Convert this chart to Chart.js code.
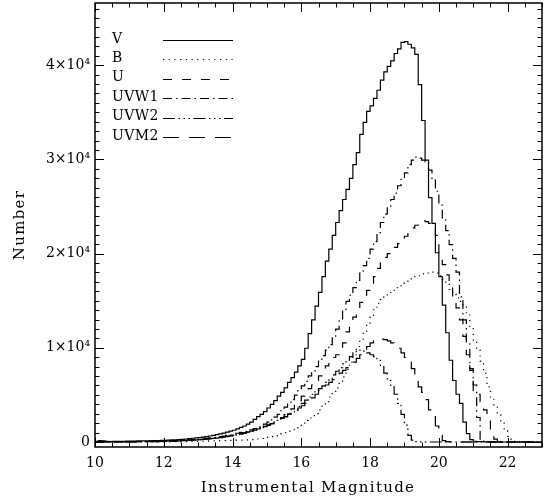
<!DOCTYPE html>
<html>
<head>
<meta charset="utf-8">
<script src="https://cdn.jsdelivr.net/npm/chart.js@4.4.1/dist/chart.umd.min.js"></script>
<style>
    html, body { margin: 0; padding: 0; background: #fff; }
    #histChart { display: block; }
</style>
</head>
<body>
<canvas id="histChart" width="544" height="501"></canvas>
<script>
// Histogramas de magnitude instrumental, bins de 0.1 mag a partir de 10.0
const binStart = 10.0;
const binWidth = 0.1;
const nBins = 130;
const magBins = Array.from({ length: nBins }, (_, i) => +(binStart + i * binWidth).toFixed(1));

const countsV = [
    80, 150, 120, 60, 50, 60, 70, 60, 80, 90,
    90, 100, 110, 120, 110, 130, 140, 150, 160, 170,
    180, 200, 220, 240, 260, 290, 320, 360, 400, 430,
    470, 520, 580, 640, 700, 780, 860, 950, 1050, 1150,
    1250, 1400, 1550, 1700, 1900, 2100, 2400, 2700, 2930, 3220,
    3610, 4000, 4390, 4880, 5270, 5750, 6340, 6830, 7410, 8090,
    8780, 9950, 11500, 12970, 14430, 15890, 17550, 19210, 20480, 21940,
    23300, 24570, 25740, 26810, 27980, 29450, 30710, 32660, 33930, 35100,
    35690, 36470, 37340, 38420, 39290, 39880, 40460, 41240, 41730, 42410,
    42510, 42220, 41830, 41150, 37930, 34130, 29930, 25940, 23210, 20090,
    17550, 14530, 11600, 8680, 6530, 5070, 4100, 2100, 900, 250,
    80, 40, 30, 20, 10, 10, 0, 0, 0, 0,
    0, 0, 0, 0, 0, 0, 0, 0, 0, 0
];

const countsB = [
    0, 0, 0, 0, 0, 0, 0, 0, 0, 0,
    0, 0, 0, 0, 0, 0, 10, 10, 10, 20,
    20, 20, 30, 30, 40, 40, 50, 50, 60, 70,
    80, 90, 100, 110, 120, 130, 140, 150, 160, 170,
    180, 190, 200, 210, 220, 250, 280, 320, 370, 430,
    500, 580, 660, 760, 870, 1000, 1150, 1300, 1500, 1750,
    2000, 2300, 2550, 2800, 3020, 3410, 3800, 4290, 4780, 5270,
    5750, 6340, 6920, 7700, 8480, 9260, 10140, 10920, 11700, 12480,
    13260, 14040, 14720, 15110, 15410, 15700, 16090, 16380, 16580, 16870,
    17060, 17160, 17360, 17550, 17650, 17840, 17940, 18040, 18040, 17940,
    17650, 17260, 16770, 16190, 15700, 15310, 14920, 14430, 13650, 12190,
    10730, 9750, 8580, 7310, 5850, 4780, 3710, 2900, 2000, 1200,
    600, 250, 60, 20, 0, 0, 0, 0, 0, 0
];

const countsU = [
    0, 20, 20, 10, 10, 10, 20, 20, 20, 30,
    30, 30, 40, 40, 50, 50, 60, 60, 70, 80,
    90, 100, 110, 120, 130, 150, 170, 190, 210, 230,
    260, 290, 320, 350, 390, 430, 480, 530, 590, 650,
    720, 790, 870, 960, 1050, 1150, 1260, 1380, 1500, 1650,
    1800, 1950, 2150, 2350, 2600, 2900, 3200, 3510, 3900, 4390,
    4880, 5270, 5660, 6050, 6530, 7020, 7510, 8090, 8580, 8970,
    9260, 9850, 10530, 11700, 12480, 13260, 14040, 14820, 15600, 16090,
    16770, 17550, 18430, 19010, 19600, 19990, 20380, 20670, 21060, 21450,
    21840, 22230, 22720, 23010, 23300, 23500, 23400, 23210, 23010, 21940,
    19990, 18820, 17750, 16580, 15410, 14240, 12970, 11210, 9260, 7610,
    6050, 5070, 4290, 3410, 2900, 1000, 300, 50, 0, 0,
    0, 0, 0, 0, 0, 0, 0, 0, 0, 0
];

const countsUVW1 = [
    0, 10, 10, 10, 10, 20, 20, 20, 20, 30,
    30, 40, 40, 50, 50, 60, 60, 70, 80, 90,
    100, 110, 120, 140, 160, 180, 200, 230, 260, 290,
    320, 350, 390, 430, 480, 530, 580, 640, 700, 770,
    850, 930, 1020, 1110, 1200, 1300, 1420, 1550, 1700, 1900,
    2100, 2350, 2650, 2930, 3320, 3710, 4100, 4490, 4970, 5460,
    5950, 6440, 7020, 7510, 8000, 8580, 9170, 9750, 10340, 11120,
    11990, 12970, 14040, 14920, 15600, 16380, 17160, 17940, 18720, 19500,
    20480, 21260, 22230, 23300, 24180, 24960, 25740, 26420, 27200, 27890,
    28570, 29450, 29930, 30230, 30130, 29930, 29740, 28860, 27790, 26620,
    25160, 23790, 22430, 20960, 19500, 18040, 15410, 12970, 10530, 7800,
    5360, 2600, 300, 80, 30, 0, 0, 0, 0, 0,
    0, 0, 0, 0, 0, 0, 0, 0, 0, 0
];

const countsUVW2 = [
    0, 0, 0, 10, 10, 10, 10, 10, 20, 20,
    20, 20, 30, 30, 30, 40, 40, 50, 50, 60,
    70, 80, 90, 100, 110, 130, 150, 170, 190, 210,
    240, 270, 300, 340, 380, 420, 470, 520, 580, 640,
    710, 780, 860, 950, 1040, 1140, 1250, 1370, 1500, 1640,
    1790, 1950, 2120, 2300, 2500, 2700, 2950, 3200, 3410, 3750,
    4100, 4440, 4780, 5070, 5360, 5660, 5950, 6340, 6730, 7120,
    7510, 7900, 8290, 8680, 9070, 9460, 9650, 9750, 9650, 9460,
    9260, 9070, 8680, 8000, 7310, 6530, 5850, 5070, 4100, 2930,
    1800, 700, 200, 50, 20, 10, 0, 0, 0, 0,
    0, 0, 0, 0, 0, 0, 0, 0, 0, 0,
    0, 0, 0, 0, 0, 0, 0, 0, 0, 0,
    0, 0, 0, 0, 0, 0, 0, 0, 0, 0
];

const countsUVM2 = [
    0, 0, 10, 10, 10, 10, 10, 20, 20, 20,
    20, 30, 30, 30, 40, 40, 50, 50, 60, 70,
    80, 90, 100, 110, 120, 140, 160, 180, 200, 220,
    250, 280, 310, 350, 390, 430, 480, 530, 590, 650,
    720, 800, 880, 970, 1060, 1160, 1270, 1390, 1520, 1660,
    1800, 1950, 2100, 2300, 2500, 2700, 2950, 3200, 3360, 3610,
    3850, 4100, 4390, 4680, 5070, 5460, 5750, 6050, 6340, 6630,
    6920, 7310, 7610, 7900, 8190, 8480, 8870, 9260, 9750, 10140,
    10530, 10730, 10820, 10920, 10870, 10730, 10530, 10240, 9950, 9460,
    8970, 8480, 7800, 6830, 5850, 5270, 4490, 3410, 2700, 1700,
    700, 150, 50, 20, 0, 0, 0, 0, 0, 0,
    0, 0, 0, 0, 0, 0, 0, 0, 0, 0,
    0, 0, 0, 0, 0, 0, 0, 0, 0, 0
];

const seriesNames = ['V', 'B', 'U', 'UVW1', 'UVW2', 'UVM2'];
const seriesCounts = [countsV, countsB, countsU, countsUVW1, countsUVW2, countsUVM2];

const xTickValues = [10, 12, 14, 16, 18, 20, 22];
const xTickLabels = ['10', '12', '14', '16', '18', '20', '22'];
const yTickValues = [0, 10000, 20000, 30000, 40000];
const yTickLabels = ['0', '1×10⁴', '2×10⁴', '3×10⁴', '4×10⁴'];

// Estilos de linha (estilo IDL)
const lineDashes = {
    V: [],
    B: [1.2, 4.5],
    U: [9, 10],
    UVW1: [9, 4, 1.5, 4],
    UVW2: [12, 3.5, 1.5, 3.5, 1.5, 3.5, 1.5, 3.5],
    UVM2: [16, 10]
};

const serifFont = '"DejaVu Serif", "Liberation Serif", serif';

// Converte contagens em pontos de histograma (borda esquerda de cada bin)
function toSteps(counts) {
    const pts = counts.map((c, i) => ({ x: magBins[i], y: c }));
    pts.push({ x: +(magBins[magBins.length - 1] + binWidth).toFixed(1), y: counts[counts.length - 1] });
    return pts;
}

// Moldura com ticks internos, títulos dos eixos e legenda
const frameAndLegend = {
    id: 'frameAndLegend',
    afterDraw(chart) {
        const { ctx, chartArea: a, scales: { x, y } } = chart;
        ctx.save();
        ctx.strokeStyle = '#000';
        ctx.setLineDash([]);

        ctx.lineWidth = 1.5;
        ctx.strokeRect(a.left, a.top, a.right - a.left, a.bottom - a.top);

        ctx.lineWidth = 1;
        ctx.beginPath();
        // x: menores a cada 0.5, maiores a cada 2
        for (let k = 0; k <= 26; k++) {
            const v = 10 + k * 0.5;
            const px = Math.round(x.getPixelForValue(v)) + 0.5;
            const len = (k % 4 === 0) ? 9 : 4.5;
            ctx.moveTo(px, a.bottom); ctx.lineTo(px, a.bottom - len);
            ctx.moveTo(px, a.top); ctx.lineTo(px, a.top + len);
        }
        // y: menores a cada 1000, maiores a cada 10000
        for (let k = 0; k <= 46; k++) {
            const v = k * 1000;
            const py = Math.round(y.getPixelForValue(v)) + 0.5;
            const len = (k % 10 === 0) ? 9 : 4.5;
            ctx.moveTo(a.left, py); ctx.lineTo(a.left + len, py);
            ctx.moveTo(a.right, py); ctx.lineTo(a.right - len, py);
        }
        ctx.stroke();

        // títulos dos eixos
        ctx.fillStyle = '#000';
        ctx.font = '15px ' + serifFont;
        ctx.letterSpacing = '1.3px';
        ctx.textAlign = 'center';
        ctx.textBaseline = 'middle';
        ctx.fillText('Instrumental Magnitude', 308, 488);
        ctx.save();
        ctx.translate(20, (a.top + a.bottom) / 2);
        ctx.rotate(-Math.PI / 2);
        ctx.fillText('Number', 0, 0);
        ctx.restore();

        // legenda
        ctx.font = '14px ' + serifFont;
        ctx.letterSpacing = '0.4px';
        ctx.textAlign = 'left';
        chart.data.datasets.forEach((ds, i) => {
            const ly = 40 + i * 19.4;
            ctx.fillText(ds.label, 112, ly - 1);
            ctx.beginPath();
            ctx.lineWidth = 1.2;
            ctx.setLineDash(ds.borderDash);
            ctx.moveTo(163, Math.round(ly) + 0.5);
            ctx.lineTo(233, Math.round(ly) + 0.5);
            ctx.stroke();
        });
        ctx.restore();
    }
};

const ctx = document.getElementById('histChart').getContext('2d');

new Chart(ctx, {
    type: 'line',
    data: {
        datasets: seriesNames.map((name, i) => ({
            label: name,
            data: toSteps(seriesCounts[i]),
            borderColor: '#000',
            borderWidth: 1.2,
            borderDash: lineDashes[name],
            stepped: 'before',
            pointRadius: 0,
            fill: false,
            tension: 0
        }))
    },
    options: {
        responsive: false,
        animation: false,
        layout: { padding: { top: 3, right: 2, left: 0, bottom: 0 } },
        plugins: {
            legend: { display: false },
            tooltip: { enabled: false }
        },
        scales: {
            x: {
                type: 'linear',
                min: 10,
                max: 23,
                grid: { display: false, drawTicks: false },
                border: { display: false },
                afterBuildTicks: s => { s.ticks = xTickValues.map(v => ({ value: v })); },
                afterFit: s => { s.height = 54; s.paddingLeft = 0; s.paddingRight = 0; },
                ticks: {
                    padding: 8,
                    color: '#000',
                    maxRotation: 0,
                    autoSkip: false,
                    font: { family: serifFont, size: 14 },
                    callback: (v, i) => xTickLabels[i]
                }
            },
            y: {
                type: 'linear',
                min: -530,
                max: 46600,
                grid: { display: false, drawTicks: false },
                border: { display: false },
                afterBuildTicks: s => { s.ticks = yTickValues.map(v => ({ value: v })); },
                afterFit: s => { s.width = 95; s.paddingTop = 0; s.paddingBottom = 0; },
                ticks: {
                    padding: 5,
                    color: '#000',
                    autoSkip: false,
                    font: { family: serifFont, size: 14 },
                    callback: (v, i) => yTickLabels[i]
                }
            }
        }
    },
    plugins: [frameAndLegend]
});
</script>
</body>
</html>
